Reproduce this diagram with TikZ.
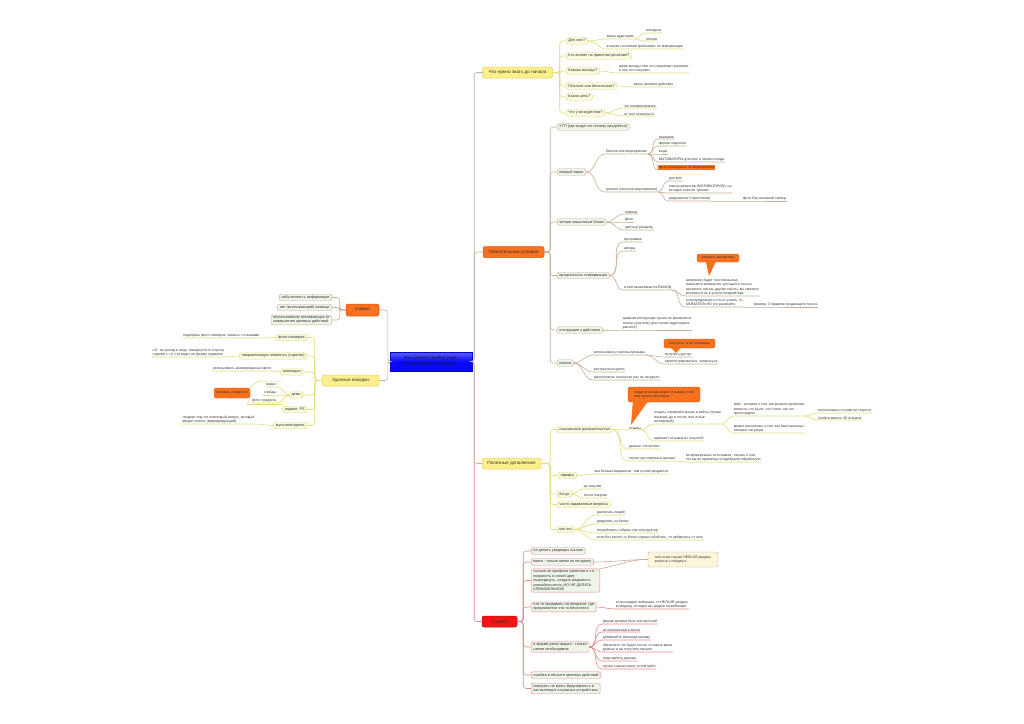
\documentclass[tikz,border=0pt]{standalone}
\usepackage{fontspec}
\setmainfont{Liberation Sans}
\usetikzlibrary{calc}

\definecolor{rootblue}{HTML}{0808FA}
\definecolor{yelfill}{HTML}{FBF08C}
\definecolor{yeldraw}{HTML}{E2CF66}
\definecolor{orfill}{HTML}{F7711E}
\definecolor{ordraw}{HTML}{E0590A}
\definecolor{redfill}{HTML}{F01616}
\definecolor{tanline}{HTML}{C8AD93}
\definecolor{pinkline}{HTML}{E38A8A}
\definecolor{yelline}{HTML}{E6DA76}
\definecolor{paleyel}{HTML}{FAFAE0}
\definecolor{palegrn}{HTML}{F0F5E9}
\definecolor{notefill}{HTML}{FBF5D9}

\begin{document}
\begin{tikzpicture}[x=1pt, y=-1pt,
  txt/.style={font=\fontsize{3.5}{4.3}\selectfont, text=black!80},
  leaf/.style={txt, inner xsep=0.6pt, inner ysep=0.7pt, align=left, anchor=south west},
  leafl/.style={leaf, anchor=south east},
  sub/.style={font=\fontsize{3.8}{4.5}\selectfont, text=black!80, draw,
    rounded corners=1.5pt, inner xsep=2.2pt, inner ysep=1.2pt,
    minimum height=6.5, align=left, line width=0.45pt},
  subyel/.style={sub, fill=paleyel, draw=yelline, anchor=west},
  subtan/.style={sub, fill=palegrn, draw=tanline, anchor=west},
  subred/.style={sub, fill=palegrn, draw=pinkline, anchor=west},
  main/.style={font=\fontsize{4.6}{5.4}\selectfont, text=black!80,
    rounded corners=2pt, minimum height=11, line width=0.5pt},
  yelbox/.style={main, fill=yelfill, draw=yeldraw},
  orbox/.style={main, fill=orfill, draw=ordraw},
  callout/.style={txt, fill=orfill, draw=ordraw, line width=0.3pt,
    rounded corners=2pt, align=left, inner sep=2pt},
  lyel/.style={yelline, line width=0.6pt},
  ltan/.style={tanline, line width=0.6pt},
  lred/.style={pinkline, line width=0.6pt},
  trunk/.style={rounded corners=3pt}
]
  \fill[white] (0,0) rectangle (1024,723);
  \useasboundingbox (0,0) rectangle (1024,723);

  % central topic
  \node[font=\fontsize{4.6}{5.6}\selectfont, text=black!90,
    top color=rootblue!65!white, bottom color=rootblue, middle color=rootblue,
    draw=rootblue!80!black, line width=0.4pt,
    minimum width=82, minimum height=19, align=center, inner sep=1pt]
    (root) at (431,361.5) {Как сделать landing page,\\которая будет продавать};

  % main topics
  \node[yelbox, minimum width=70] (know) at (517.5,72.5) {Что нужно знать до начала};
  \node[orbox, minimum width=61] (must) at (513.5,252) {Обязательные условия};
  \node[yelbox, minimum width=59] (useful) at (511.5,463.5) {Полезные дополнения};
  \node[main, fill=redfill, draw=redfill!75!black, minimum width=35]
    (errs) at (499.5,621.5) {Ошибки};
  \node[orbox, minimum width=33, minimum height=12] (spor) at (362.5,310) {спорно};
  \node[yelbox, minimum width=57] (finds) at (350.5,380.5) {Удачные находки};

  \draw[lred, trunk] (root.east) -- ++(2,0) |- (errs.west);
  \draw[ltan, trunk] (root.east) -- ++(2,0) |- (know.west);
  \draw[ltan, trunk] (root.east) -- ++(2,0) |- (must.west);
  \draw[ltan, trunk] (root.east) -- ++(2,0) |- (useful.west);
  \draw[ltan, trunk] (root.west) -- ++(-2,0) |- (spor.east);
  \draw[ltan, trunk] (root.west) -- ++(-2,0) |- (finds.east);

  % --- what to know before starting
  \node[subyel] (k1) at (566,41) {Для кого?};
  \node[subyel] (k2) at (566,56) {Кто влияет на принятие решения?};
  \node[subyel] (k3) at (566,71) {Каковы выгоды?};
  \node[subyel] (k4) at (566,86) {Платное или бесплатное?};
  \node[subyel] (k5) at (566,97) {Какая цель?};
  \node[subyel] (k6) at (566,113) {Что у конкурентов?};
  \foreach \sb in {k1,k2,k3,k4,k5,k6}
    \draw[lyel, trunk] (know.east) -- ++(7,0) |- (\sb.west);

  \node[leaf] (aud) at (606,39) {какая аудитория};
  \node[leaf] (cold) at (645,33) {холодная};
  \node[leaf] (warm) at (645,41) {теплая};
  \node[leaf] (state) at (606,49) {в каком состоянии пребывают по информации};
  \node[leaf] (gain) at (618,73) {какие выгоды тем, кто принимает решение\\и тем, кто покупает};
  \node[leaf] (goal) at (633,87) {какое целевое действие};
  \node[leaf] (borrow) at (623,108) {что позаимствовать};
  \node[leaf] (refuse) at (623,116) {от чего отказаться};
  \foreach \pa/\ch in {k1/aud, k1/state, k3/gain, k4/goal, k6/borrow, k6/refuse}
    \draw[lyel] (\pa.east) to[out=0,in=180] (\ch.south west) -- (\ch.south east);
  \foreach \ch in {cold,warm}
    \draw[lyel] (aud.south east) to[out=0,in=180] (\ch.south west) -- (\ch.south east);

  % --- required conditions
  \node[subtan] (m1) at (557,127) {УТП (где-когда-что почему продаётся)};
  \node[subtan] (m2) at (557,172) {первый экран};
  \node[subtan] (m3) at (557,222) {чёткие смысловые блоки};
  \node[subtan] (m4) at (557,275.5) {прозрачность информации};
  \node[subtan] (m5) at (557,330) {инструкция к действию};
  \node[subtan] (m6) at (557,363) {кнопки};
  \foreach \sb in {m1,m2,m3,m4,m5,m6}
    \draw[ltan, trunk] (must.east) -- ++(6,0) |- (\sb.west);

  \node[leaf] (free) at (605,154) {бесплатное мероприятие};
  \node[leaf] (paid) at (605,192) {тренинг (платное мероприятие)};
  \foreach \ch in {free,paid}
    \draw[ltan] (m2.east) to[out=0,in=180] (\ch.south west) -- (\ch.south east);
  \foreach \nm/\yy/\txt in {fa/139/название, fb/146/форма подписки, fc/154/когда,
    fd/162/МОТИВАТОРЫ для кого и зачем и когда}{
    \node[leaf] (\nm) at (658,\yy) {\txt};
    \draw[ltan] (free.south east) to[out=0,in=180] (\nm.south west) -- (\nm.south east);
  }
  \node[leaf, fill=orfill] (fe) at (658,170) {фото докладчика по мероприятию};
  \draw[ltan] (free.south east) to[out=0,in=180] (fe.south west);
  \node[leaf] (pa) at (668,181) {для кого};
  \node[leaf] (pb) at (668,193) {список вопросов (МОТИВАТОРОВ), на\\которые ответит тренинг};
  \node[leaf] (pc) at (668,201) {разрушение стереотипов};
  \node[leaf] (pd) at (742,201) {фото б/ш основной спикер};
  \foreach \ch in {pa,pb,pc}
    \draw[ltan] (paid.south east) to[out=0,in=180] (\ch.south west) -- (\ch.south east);
  \draw[ltan] (pc.south east) -- (pd.south west) -- (pd.south east);

  \foreach \nm/\yy/\txt in {ba/214/главное, bb/222/фото, bc/230/цветные разделы}{
    \node[leaf] (\nm) at (624,\yy) {\txt};
    \draw[ltan] (m3.east) to[out=0,in=180] (\nm.south west) -- (\nm.south east);
  }

  \node[leaf] (prog) at (623,242) {программа};
  \node[leaf] (auth) at (623,251) {авторы};
  \node[leaf] (outc) at (623,290) {и чем заканчивается ВЫХОД};
  \foreach \ch in {prog,auth,outc}
    \draw[ltan] (m4.east) to[out=0,in=180] (\ch.south west) -- (\ch.south east);
  \node[leaf] (ex1) at (685,296) {например, будет текстом выход -\\повысится конверсия, улучшатся тексты,\\научитесь писать другие тексты, вы сможете\\вложиться не в услуги копирайтера};
  \node[leaf] (ex2) at (685,307) {если предлагаете что-то узнать, то\\ОБЯЗАТЕЛЬНО это раскройте};
  \node[leaf] (ex3) at (753,307) {пример: 3 правила продающего текста};
  \foreach \ch in {ex1,ex2}
    \draw[ltan] (outc.south east) to[out=0,in=180] (\ch.south west) -- (\ch.south east);
  \draw[ltan] (ex2.south east) -- (ex3.south west) -- (ex3.south east);
  \coordinate (tp1) at (709,276);
  \node[callout, minimum width=42, minimum height=8, align=center] (cb1) at (718,258) {показать конкретику};
  \fill[orfill] ($(cb1.south west)+(9,-0.5)$) -- ($(cb1.south west)+(19,-0.5)$) -- (tp1) -- cycle;

  \node[leaf] (instr) at (622,330) {дневная инструкция лучше по времени не\\только (учителя) для чтения аудитории в\\расчете)};
  \draw[ltan] (m5.east) to[out=0,in=180] (instr.south west) -- (instr.south east);

  \node[leaf] (verbs) at (593,355) {использовать глаголы-призывы};
  \node[leaf] (contr) at (593,372) {контрастные цвета};
  \node[leaf] (place) at (593,380) {расположить несколько раз на лендинге};
  \foreach \ch in {verbs,contr,place}
    \draw[ltan] (m6.east) to[out=0,in=180] (\ch.south west) -- (\ch.south east);
  \node[leaf] (va) at (664,357) {получить доступ};
  \node[leaf] (vb) at (664,364) {зарегистрироваться, записаться};
  \foreach \ch in {va,vb}
    \draw[ltan] (verbs.south east) to[out=0,in=180] (\ch.south west) -- (\ch.south east);
  \coordinate (tp2) at (676,353);
  \node[callout, minimum width=51, minimum height=9, align=center] (cb2) at (689.5,343.5) {Получить, а не отправить};
  \fill[orfill] ($(cb2.south west)+(7,-0.5)$) -- ($(cb2.south west)+(17,-0.5)$) -- (tp2) -- cycle;

  % --- useful additions
  \node[subyel] (u1) at (557,429.5) {социальные доказательства};
  \node[subyel] (u2) at (558,475.5) {тарифы};
  \node[subyel] (u3) at (557,494) {бонус};
  \node[subyel] (u4) at (557,504.5) {часто задаваемые вопросы};
  \node[subyel] (u5) at (557,529.5) {как это};
  \foreach \sb in {u1,u2,u3,u4,u5}
    \draw[lyel, trunk] (useful.east) -- ++(9,0) |- (\sb.west);

  \node[leaf] (rev) at (628,430) {отзывы};
  \node[leaf] (stat) at (628,449) {данные статистики};
  \node[leaf] (trust) at (628,461) {только достоверные данные};
  \foreach \ch in {rev,stat,trust}
    \draw[lyel] (u1.east) to[out=0,in=180] (\ch.south west) -- (\ch.south east);
  \node[leaf] (cases) at (653,424) {отзывы, переработанные в кейсы (лучше\\показать до и после, или отзыв\\экспертный)};
  \node[leaf] (shots) at (653,441) {скриншот отзывов из соцсетей};
  \foreach \ch in {cases,shots}
    \draw[lyel] (rev.south east) to[out=0,in=180] (\ch.south west) -- (\ch.south east);
  \node[leaf] (story) at (733,416) {кейс - история о том, как решили проблему\\клиента, что было, что стало, как это\\происходило};
  \node[leaf] (typic) at (733,433) {можно рассказать о том, как были решены\\типовые ситуации};
  \foreach \ch in {story,typic}
    \draw[lyel] (cases.south east) to[out=0,in=180] (\ch.south west) -- (\ch.south east);
  \node[leaf] (sa) at (817,413) {использовать ссылки на соцсети};
  \node[leaf] (sb) at (817,420) {3 кейса вместо 30 отзывов};
  \foreach \ch in {sa,sb}
    \draw[lyel] (story.south east) to[out=0,in=180] (\ch.south west) -- (\ch.south east);
  \node[leaf] (src) at (685,462) {из проверенных источников - писать о том,\\что вы их правильно (подобрали) обработали};
  \draw[lyel] (trust.south east) to[out=0,in=180] (src.south west) -- (src.south east);
  \coordinate (tp3) at (631,425);
  \node[callout, minimum width=72, minimum height=15] (cb3) at (664,394.5) {люди не всегда верят отзывам, если\\они только текстовые};
  \fill[orfill] ($(cb3.south west)+(5,-0.5)$) -- ($(cb3.south west)+(20,-0.5)$) -- (tp3) -- cycle;

  \node[leaf] (tar) at (593,474) {чем больше вариантов, тем лучше продаётся};
  \draw[lyel] (u2.east) to[out=0,in=180] (tar.south west) -- (tar.south east);
  \node[leaf] (bon1) at (583,489) {до покупки};
  \node[leaf] (bon2) at (583,498) {после покупки};
  \foreach \ch in {bon1,bon2}
    \draw[lyel] (u3.east) to[out=0,in=180] (\ch.south west) -- (\ch.south east);
  \foreach \nm/\yy/\txt in {ha/515/расписать людей, hb/524/разделить на блоки,
    hc/533/попробовать собрать как конструктор,
    hd/540/{если без какого-то блока хорошо обойтись, то избавьтесь от него}}{
    \node[leaf] (\nm) at (596,\yy) {\txt};
    \draw[lyel] (u5.east) to[out=0,in=180] (\nm.south west) -- (\nm.south east);
  }

  % --- mistakes
  \node[subred] (e1) at (531,551) {не делать уводящих ссылок};
  \node[subred] (e2) at (531,562) {меню - только меню по лендингу};
  \node[subred] (e3) at (531,580.5) {ссылки на профили клиентов и т.п. -\\покрасить в синий цвет,\\подчеркнуть, создать видимость\\кликабельности, НО НЕ ДЕЛАТЬ\\КЛИКАБЕЛЬНОЙ};
  \node[subred] (e4) at (531,607) {что-то продавать на лендинге, где\\предлагается что-то бесплатно};
  \node[subred] (e5) at (531,647) {в форме регистрации - только\\самое необходимое};
  \node[subred] (e6) at (531,675) {ошибка в объекте целевых действий};
  \node[subred] (e7) at (531,688.5) {смотреть на кросс-браузерность и\\как выглядит на разных устройствах};
  \foreach \sb in {e1,e2,e3,e4,e5,e6,e7}
    \draw[lred, trunk] (errs.east) -- ++(6,0) |- (\sb.west);

  \node[txt, fill=notefill, draw=tanline, line width=0.45pt, rounded corners=2pt,
    align=left, inner sep=2.5pt, minimum width=70, minimum height=15]
    (note) at (683,559.5) {но в этом случае НЕЛЬЗЯ уводить\\клиента с лендинга};
  \draw[ltan] (e2.east) to[out=0,in=180] (note.west);
  \draw[ltan] (e3.north east) to[out=10,in=180] (note.west);

  \node[leaf] (web) at (615,609) {если лендинг вебинара, то НЕЛЬЗЯ уводить\\в продажу, которую вы дадите на вебинаре};
  \draw[lred] (e4.east) to[out=0,in=180] (web.south west) -- (web.south east);
  \foreach \nm/\yy/\txt in {ra/624/форма должна быть контрастной, rb/632/не использовать капчи,
    rc/640/добавляйте автоподстановку,
    rd/652/{объясните что будет после, оставьте ваши\\данные и вы получите письмо},
    re/661/подставлять данные, rf/669/{лучше сначала имя, потом майл}}{
    \node[leaf] (\nm) at (602,\yy) {\txt};
    \draw[lred] (e5.east) to[out=0,in=180] (\nm.south west) -- (\nm.south east);
  }

  % --- disputable
  \node[subtan, anchor=east] (s1) at (332,297.5) {избыточность информации};
  \node[subtan, anchor=east] (s2) at (332,307.5) {нет (всплывающей) помощи};
  \node[subtan, anchor=east] (s3) at (332,320) {использование отвлекающих от\\совершения целевых действий};
  \foreach \sb in {s1,s2,s3}
    \draw[ltan, trunk] (spor.west) -- ++(-6,0) |- (\sb.east);

  % --- good finds
  \node[subyel, anchor=east] (f1) at (307,337.5) {фото спикеров};
  \node[subyel, anchor=east] (f2) at (307,356) {направляющие элементы (стрелки)};
  \node[subyel, anchor=east] (f3) at (303,372) {анимация};
  \node[subyel, anchor=east] (f4) at (303,395) {демо};
  \node[subyel, anchor=east] (f5) at (307,409.5) {подвал, PS};
  \node[subyel, anchor=east] (f6) at (307,425.5) {мультилендинги};
  \foreach \sb in {f1,f2,f3,f4,f5,f6}
    \draw[lyel, trunk] (finds.west) -- ++(-7,0) |- (\sb.east);

  \node[leafl] (f1t) at (260,338) {подобрать фото спикеров, связать с отзывами};
  \node[leafl] (f2t) at (225,357) {н.б. не взгляд в лицо, повернутое в сторону\\стрелки = то, что ведёт на форму подписки};
  \node[leafl] (f3t) at (272,371) {использовать анимированные фото};
  \node[leafl] (f6t) at (255,424) {лендинг под тот поисковый запрос, который\\вводит клиент (мимикрирующий)};
  \foreach \pa/\ch in {f1/f1t, f2/f2t, f3/f3t, f6/f6t}
    \draw[lyel] (\pa.west) to[out=180,in=0] (\ch.south east) -- (\ch.south west);
  \node[leafl] (video) at (277,387) {видео};
  \node[leafl] (slides) at (277,395) {слайды};
  \node[leafl] (fprod) at (277,403) {фото продукта};
  \foreach \ch in {video,slides,fprod}
    \draw[lyel] (f4.west) to[out=180,in=0] (\ch.south east) -- (\ch.south west);
  \node[callout, minimum width=36, minimum height=10, align=center] (shc) at (232,393) {показать конкретно};
  \draw[lyel] (shc.north east) to[out=45,in=180] ($(video.north west)+(-4,-1.5)$) -- ($(video.north east)+(5,-1.5)$);
  \draw[lyel] (shc.south east) to[out=-45,in=180] ($(fprod.south west)+(-4,1.5)$) -- ($(fprod.south east)+(5,1.5)$);
\end{tikzpicture}
\end{document}
